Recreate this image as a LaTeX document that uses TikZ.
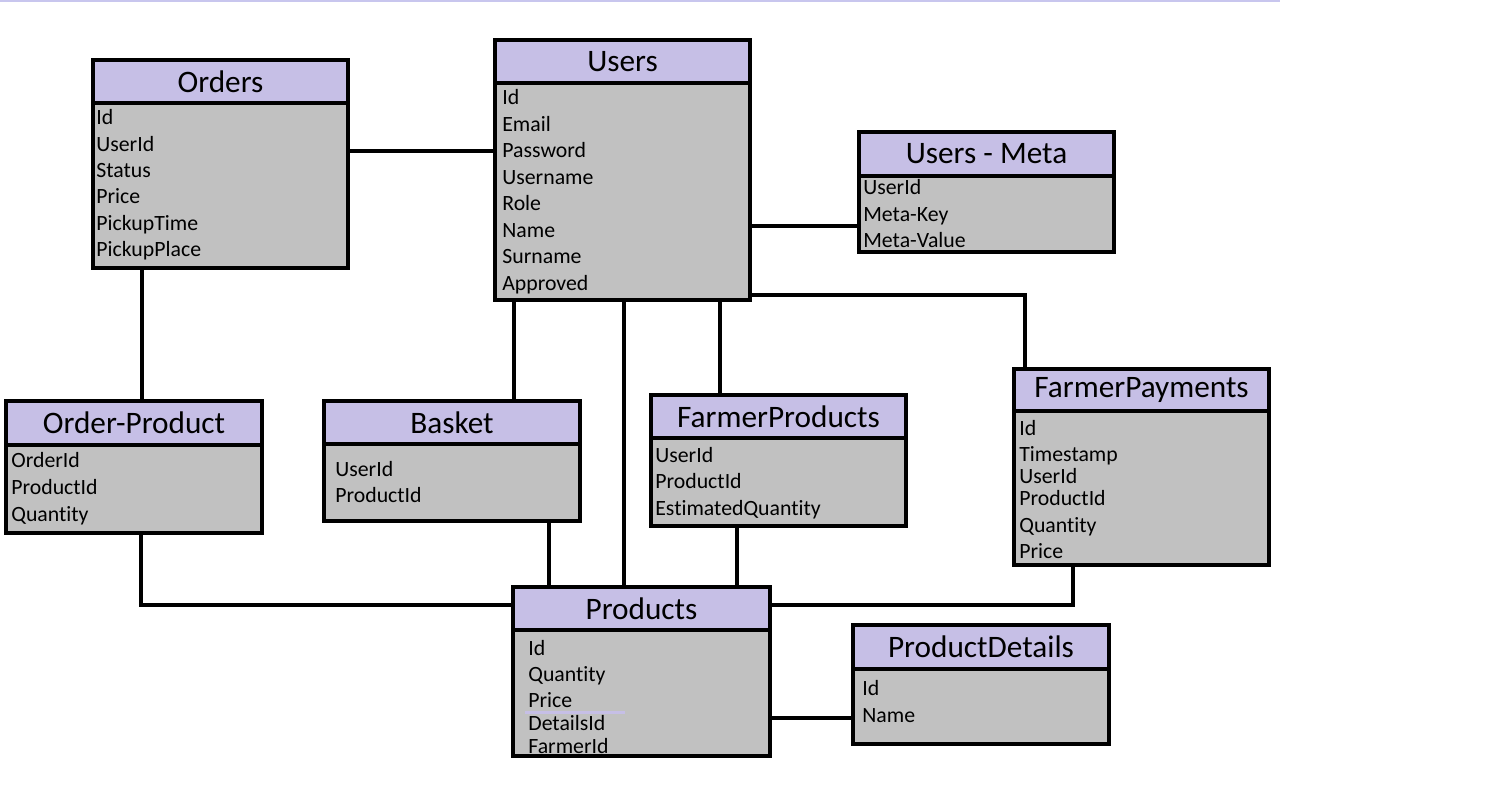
\documentclass[tikz,border=0pt]{standalone}
\usepackage{fontspec}
\setmainfont{Carlito}[Ligatures=NoCommon]
\usetikzlibrary{positioning}
\definecolor{headfill}{HTML}{C6BFE6}
\definecolor{bodyfill}{HTML}{C1C1C1}
\definecolor{edgeline}{HTML}{C8C6EE}
\newcommand*\pxl{0.02cm}
\newcommand*\headfont{\fontsize{17.8}{20}\selectfont}
\newcommand*\fieldfont{\fontsize{12.4}{14}\selectfont}
\tikzset{
    link/.style = {line width=0.09cm},
    tblhead/.style = {draw,line width=0.09cm,fill=headfill,anchor=north west,outer sep=0,inner sep=0,font=\headfont},
    tblbody/.style = {draw,line width=0.09cm,fill=bodyfill,anchor=north west,outer sep=0,inner sep=0},
    field/.style = {anchor=base west,inner sep=0,font=\fieldfont}
}
% table: name, x, y, width, header height, body height, title
\newcommand*\erTable[7]{%
    \node[tblhead,minimum width=#4*\pxl,minimum height=#5*\pxl] (#1) at (#2,#3) {#7};
    \node[tblbody,minimum width=#4*\pxl,minimum height=#6*\pxl] (#1B) at (#1.south west) {};
    \node[tblhead,minimum width=#4*\pxl,minimum height=#5*\pxl] at (#1.north west) {#7};
}

\begin{document}
\begin{tikzpicture}[x=\pxl,y=-\pxl]
        \useasboundingbox (0,0) rectangle (1490,786);
        \draw[edgeline,line width=0.04cm] (0,1) -- (1280,1);
        % Tables
        \erTable{orders}{93}{60}{255}{43}{165}{Orders}
        \erTable{users}{495}{40}{255}{43}{217}{Users}
        \erTable{meta}{859}{132}{255}{44}{76}{Users - Meta}
        \erTable{opr}{6}{401}{256}{44}{88}{Order-Product}
        \erTable{basket}{324}{401}{256}{43}{77}{Basket}
        \erTable{fprod}{651}{395}{255}{43}{88}{FarmerProducts}
        \erTable{fpay}{1014}{369}{255}{42}{154}{FarmerPayments}
        \erTable{products}{513}{587}{257}{43}{126}{Products}
        \erTable{details}{853}{625}{256}{44}{75}{ProductDetails}
        % Fields
        \foreach \f/\y [count=\i] in {Id/125,UserId/152,Status/178,Price/204,PickupTime/231,PickupPlace/257}
            \node[field] (orders-f\i) at (96,\y) {\f};
        \foreach \f/\y [count=\i] in {Id/105,Email/132,Password/158,Username/185,Role/211,Name/238,Surname/264,Approved/291}
            \node[field] (users-f\i) at (502,\y) {\f};
        \foreach \f/\y [count=\i] in {UserId/195,Meta-Key/222,Meta-Value/248}
            \node[field] (meta-f\i) at (863,\y) {\f};
        \foreach \f/\y [count=\i] in {OrderId/468,ProductId/495,Quantity/521}
            \node[field] (opr-f\i) at (11,\y) {\f};
        \foreach \f/\y [count=\i] in {UserId/477,ProductId/503}
            \node[field] (basket-f\i) at (335,\y) {\f};
        \foreach \f/\y [count=\i] in {UserId/463,ProductId/489,EstimatedQuantity/516}
            \node[field] (fprod-f\i) at (655,\y) {\f};
        \foreach \f/\y [count=\i] in {Id/436,Timestamp/462,UserId/484,ProductId/506,Quantity/533,Price/559}
            \node[field] (fpay-f\i) at (1019,\y) {\f};
        \foreach \f/\y [count=\i] in {Id/655,Quantity/681,Price/707,DetailsId/730,FarmerId/753}
            \node[field] (products-f\i) at (528,\y) {\f};
        \foreach \f/\y [count=\i] in {Id/695,Name/722}
            \node[field] (details-f\i) at (862,\y) {\f};
        \draw[headfill,line width=0.06cm] (products-f3.south west) ++(-3,5) coordinate (mark) -- ++(100,0);
        % Relations
        \draw[link] (ordersB.east |- 0,151) -- (usersB.west |- 0,151);
        \draw[link] (usersB.east |- 0,226) -- (metaB.west |- 0,226);
        \draw[link] (ordersB.south -| 142,0) -- (opr.north -| 142,0);
        \draw[link] (usersB.south -| 514,0) -- (basket.north -| 514,0);
        \draw[link] (usersB.south -| 624,0) -- (products.north -| 624,0);
        \draw[link] (usersB.south -| 720,0) -- (fprod.north -| 720,0);
        \draw[link] (usersB.east |- 0,295) -| (fpay.north -| 1025,0);
        \draw[link] (oprB.south -| 141,0) |- (products.west |- 0,605);
        \draw[link] (basketB.south -| 549,0) -- (products.north -| 549,0);
        \draw[link] (fprodB.south -| 737,0) -- (products.north -| 737,0);
        \draw[link] (fpayB.south -| 1073,0) |- (products.east |- 0,605);
        \draw[link] (productsB.east |- 0,718) -- (detailsB.west |- 0,718);
    \end{tikzpicture}
\end{document}
